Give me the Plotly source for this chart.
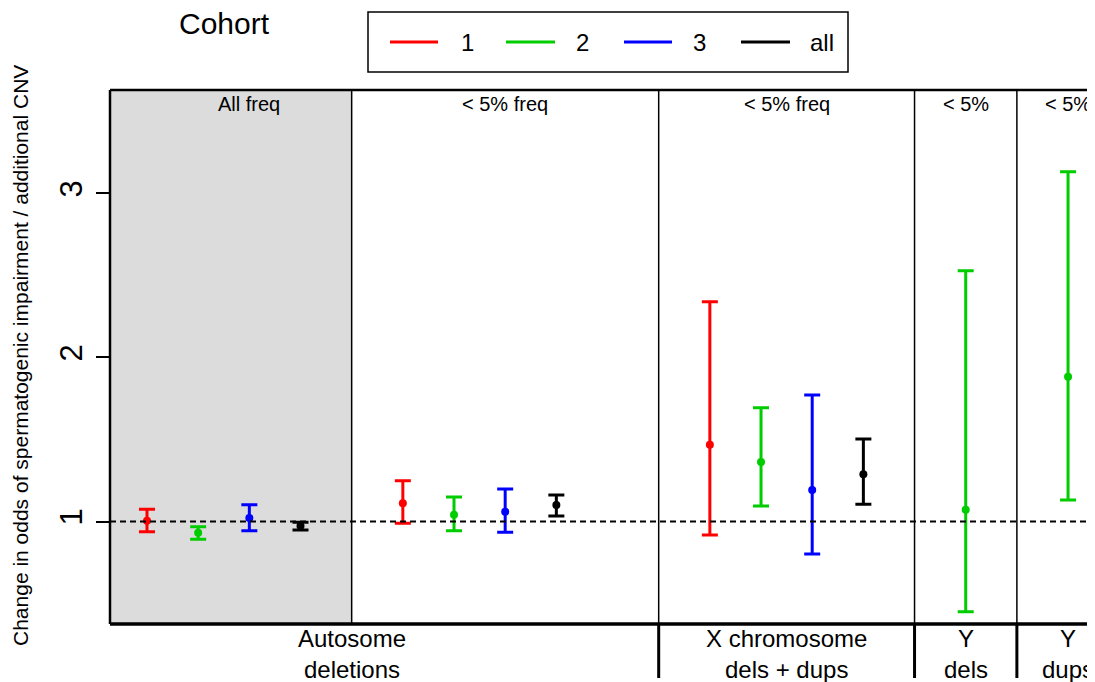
import plotly.graph_objects as go

# ---------------- data ----------------
groups = ["Autosome deletions (all freq)", "Autosome deletions (<5% freq)",
          "X chromosome dels + dups (<5% freq)", "Y dels (<5%)", "Y dups (<5%)"]
cohorts = ["1", "2", "3", "all"]

est_1 = [1.005, 1.111, 1.468, None, None]
lo_1 = [0.938, 0.989, 0.918, None, None]
hi_1 = [1.074, 1.249, 2.340, None, None]

est_2 = [0.932, 1.041, 1.363, 1.072, 1.883]
lo_2 = [0.891, 0.944, 1.095, 0.450, 1.131]
hi_2 = [0.968, 1.149, 1.694, 2.529, 3.133]

est_3 = [1.021, 1.060, 1.192, None, None]
lo_3 = [0.944, 0.934, 0.802, None, None]
hi_3 = [1.102, 1.198, 1.771, None, None]

est_all = [0.972, 1.101, 1.288, None, None]
lo_all = [0.948, 1.034, 1.105, None, None]
hi_all = [0.995, 1.162, 1.503, None, None]

panel_titles = ["All freq", "< 5% freq", "< 5% freq", "< 5%", "< 5%"]
section_labels = ["Autosome<br>deletions", "X chromosome<br>dels + dups", "Y<br>dels", "Y<br>dups"]
y_ticks = [1, 2, 3]
y_title = "Change in odds of spermatogenic impairment / additional CNV"

# ---------------- layout helpers ----------------
group_start = [0, 5, 11, 16, 18]       # slot where each group begins
panel_edges = [4, 10, 15, 17]          # separators between panels
panel_title_x = [2, 7, 12.5, 16, 18]
section_label_x = [4, 12.5, 16, 18]
section_edges = [10, 15, 17]
x_range = [-0.723, 18.683]
y_range = [0.375, 3.631]

# page pixel -> paper (page body has 8px margin; plot spans 110..1103 x 90..624)
PL, PR, PT, PB = 110, 1103, 90, 624
def px(x):
    return (x - PL) / (PR - PL)
def py(y):
    return (PB - y) / (PB - PT)

colors = {"1": "#FF0000", "2": "#00CD00", "3": "#0000FF", "all": "#000000"}
FONT = "Liberation Sans, Arial, Helvetica, sans-serif"

series = {
    "1": (est_1, lo_1, hi_1),
    "2": (est_2, lo_2, hi_2),
    "3": (est_3, lo_3, hi_3),
    "all": (est_all, lo_all, hi_all),
}

fig = go.Figure()
present = [sum(1 for cc in cohorts if series[cc][0][g] is not None) for g in range(len(groups))]
for ci, c in enumerate(cohorts):
    est, lo, hi = series[c]
    xs, ys, up, dn = [], [], [], []
    for g in range(len(groups)):
        if est[g] is None:
            continue
        xs.append(group_start[g] + (ci if present[g] > 1 else 0))
        ys.append(est[g])
        up.append(hi[g] - est[g])
        dn.append(est[g] - lo[g])
    fig.add_trace(go.Scatter(
        x=xs, y=ys, mode="markers", name=c, showlegend=False,
        marker=dict(color=colors[c], size=8),
        error_y=dict(type="data", symmetric=False, array=up, arrayminus=dn,
                     color=colors[c], thickness=3, width=8),
        cliponaxis=False,
    ))

shapes = []
shapes.append(dict(type="rect", xref="x", yref="paper", x0=x_range[0], x1=panel_edges[0],
                   y0=0, y1=1, fillcolor="#DCDCDC", line=dict(width=0), layer="below"))
shapes.append(dict(type="line", xref="paper", yref="y", x0=0, x1=1, y0=1, y1=1,
                   line=dict(color="black", width=1.8, dash="6px,4px")))
for e in panel_edges:
    shapes.append(dict(type="line", xref="x", yref="paper", x0=e, x1=e, y0=0, y1=1,
                       line=dict(color="black", width=1.5)))
for e in section_edges:
    shapes.append(dict(type="line", xref="x", yref="paper", x0=e, x1=e, y0=0, y1=py(678),
                       line=dict(color="black", width=3)))
shapes.append(dict(type="line", xref="paper", yref="paper", x0=0, x1=1, y0=1, y1=1,
                   line=dict(color="black", width=2.5)))
shapes.append(dict(type="line", xref="paper", yref="paper", x0=0, x1=0, y0=0, y1=1,
                   line=dict(color="black", width=2.5)))
shapes.append(dict(type="line", xref="paper", yref="paper", x0=0, x1=1, y0=0, y1=0,
                   line=dict(color="black", width=3.5)))

# legend box
shapes.append(dict(type="rect", xref="paper", yref="paper", x0=px(368), x1=px(848),
                   y0=py(72), y1=py(12), line=dict(color="black", width=1.5),
                   fillcolor="white"))
leg_line_px = [(390, 438), (506, 555), (624, 672), (741, 790)]
leg_text_px = [467, 582, 699, 822]
leg_y = py(42)
annotations = []
for i, c in enumerate(cohorts):
    x0, x1 = leg_line_px[i]
    shapes.append(dict(type="line", xref="paper", yref="paper", x0=px(x0), x1=px(x1),
                       y0=leg_y, y1=leg_y, line=dict(color=colors[c], width=3)))
    annotations.append(dict(xref="paper", yref="paper", x=px(leg_text_px[i]), y=leg_y,
                            text=c, showarrow=False, xanchor="center", yanchor="middle",
                            font=dict(size=24, color="black", family=FONT)))

annotations.append(dict(xref="paper", yref="paper", x=px(224), y=py(23),
                        text="Cohort", showarrow=False, xanchor="center", yanchor="middle",
                        font=dict(size=30, color="black", family=FONT)))

for tx, t in zip(panel_title_x, panel_titles):
    annotations.append(dict(xref="x", yref="paper", x=tx, y=py(104), text=t,
                            showarrow=False, xanchor="center", yanchor="middle",
                            font=dict(size=20, color="black", family=FONT)))

for sx, s in zip(section_label_x, section_labels):
    annotations.append(dict(xref="x", yref="paper", x=sx, y=py(654), text=s,
                            showarrow=False, xanchor="center", yanchor="middle",
                            font=dict(size=24, color="black", family=FONT)))

annotations.append(dict(xref="paper", yref="paper", x=px(20), y=py(356),
                        text=y_title, showarrow=False, textangle=-90,
                        xanchor="center", yanchor="middle",
                        font=dict(size=21, color="black", family=FONT)))

fig.update_layout(
    width=1095, height=682,
    margin=dict(l=PL - 8, r=0, t=PT - 8, b=682 - (PB - 8)),
    paper_bgcolor="white", plot_bgcolor="white",
    font=dict(family=FONT, color="black"),
    xaxis=dict(range=x_range, showticklabels=False, showgrid=False, zeroline=False,
               showline=False, ticks=""),
    yaxis=dict(range=y_range, tickvals=y_ticks, ticktext=[str(v) for v in y_ticks],
               ticks="outside", ticklen=13, tickwidth=1.5, tickcolor="black",
               tickangle=-90, tickfont=dict(size=31, family=FONT, color="black"),
               showgrid=False, zeroline=False, showline=False, ticklabelstandoff=2),
    shapes=shapes, annotations=annotations, showlegend=False,
)

fig.write_html("out.html")
